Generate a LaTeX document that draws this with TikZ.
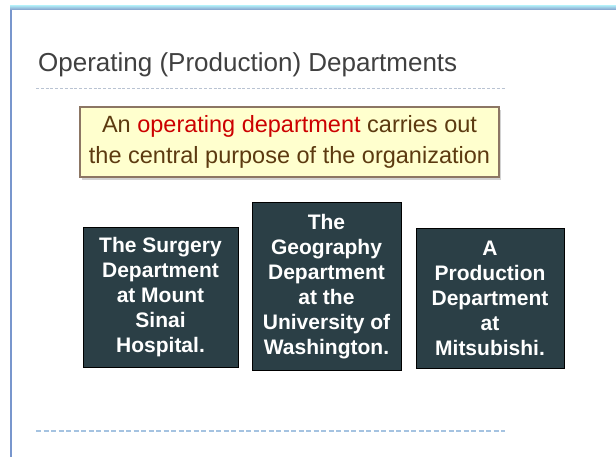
\documentclass[tikz,border=0pt]{standalone}
\usepackage{fontspec}
\setmainfont{Liberation Sans}
\usetikzlibrary{shadows}
\definecolor{barTop}{RGB}{170,225,240}
\definecolor{barBot}{RGB}{130,155,200}
\definecolor{sideLine}{RGB}{120,150,205}
\definecolor{titleGray}{RGB}{64,64,64}
\definecolor{dashGray}{RGB}{185,195,210}
\definecolor{dashBlue}{RGB}{165,195,225}
\definecolor{noteFill}{RGB}{255,255,206}
\definecolor{noteEdge}{RGB}{140,118,100}
\definecolor{noteText}{RGB}{92,58,16}
\definecolor{noteRed}{RGB}{204,0,0}
\definecolor{deptFill}{RGB}{43,63,70}
\tikzset{
  deptbox/.style={draw=black, line width=1pt, fill=deptFill, text=white,
    align=center, inner sep=0pt,
    font=\fontsize{21}{25}\selectfont\bfseries},
}
\begin{document}
\begin{tikzpicture}[x=1pt,y=-1pt]
\useasboundingbox (0,0) rectangle (616,457);
\fill[white] (0,0) rectangle (616,457);
% top bar and left line
\shade[top color=barTop, bottom color=barBot] (10,6) rectangle (616,10);
\fill[sideLine] (10,10) rectangle (12,457);
% title
\node[anchor=base west, inner sep=0pt, text=titleGray,
      font=\fontsize{26}{31}\selectfont] (title) at (38,72)
  {Operating (Production) Departments};
\coordinate (tl) at (36,89);
\coordinate (tr) at (505,89);
\draw[dashGray, line width=1pt, dash pattern=on 3pt off 1.8pt] (tl) -- (tr);
% note box
\node[draw=noteEdge, line width=1.2pt, fill=noteFill,
      minimum width=419pt, minimum height=70pt, inner sep=0pt,
      drop shadow={shadow xshift=2pt, shadow yshift=-3pt, opacity=0.35},
      align=center, text=noteText, font=\fontsize{23.5}{31}\selectfont]
  (note) at (289.5,142)
  {An \textcolor{noteRed}{operating department} carries out\\
   the central purpose of the organization};
% department boxes
\node[deptbox, minimum width=155pt, minimum height=139pt] (d1) at (160.5,297.5)
  {The Surgery\\Department\\at Mount\\Sinai\\Hospital.};
\node[deptbox, minimum width=149pt, minimum height=167pt] (d2) at (326.5,286.5)
  {The\\Geography\\Department\\at the\\University of\\Washington.};
\node[deptbox, minimum width=148pt, minimum height=139pt] (d3) at (490,298.5)
  {A\\Production\\Department\\at\\Mitsubishi.};
% bottom dashed line
\coordinate (bl) at (36,431);
\coordinate (br) at (505,431);
\draw[dashBlue, line width=1.4pt, dash pattern=on 5pt off 2.5pt] (bl) -- (br);
\end{tikzpicture}
\end{document}
